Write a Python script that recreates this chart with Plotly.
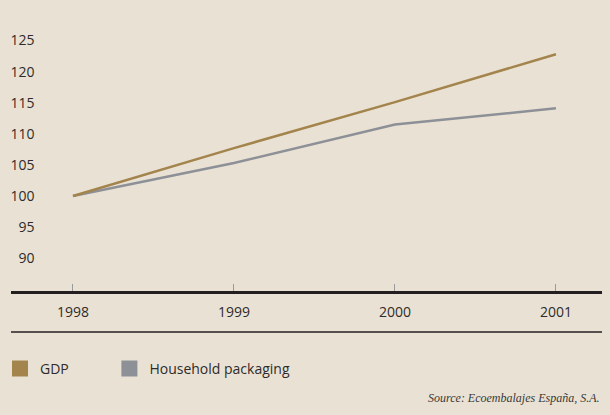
import plotly.graph_objects as go

years = [1998, 1999, 2000, 2001]
gdp = [100, 107.7, 115.1, 122.8]
household = [100, 105.3, 111.5, 114.1]
y_ticks = [90, 95, 100, 105, 110, 115, 120, 125]
series_names = ["GDP", "Household packaging"]
source_text = "Source: Ecoembalajes España, S.A."

BG = "#E9E2D4"
GDP_C = "#A3844C"
HH_C = "#8E9097"
TXT = "#2E2B2A"
FONT = "Open Sans"

fig = go.Figure()
fig.add_trace(go.Scatter(x=years, y=household, mode="lines", line=dict(color=HH_C, width=2.5),
                         showlegend=False, hoverinfo="skip"))
fig.add_trace(go.Scatter(x=years, y=gdp, mode="lines", line=dict(color=GDP_C, width=2.5),
                         showlegend=False, hoverinfo="skip"))
# legend-only square swatches, one legend each so they can be placed independently
for name, c, lg in zip(series_names, [GDP_C, HH_C], ["legend", "legend2"]):
    fig.add_trace(go.Scatter(x=[None], y=[None], mode="markers", name=name, legend=lg,
                             marker=dict(symbol="square", size=19, color=c)))

legend_common = dict(orientation="h", xanchor="left", y=-0.287, yanchor="middle",
                     bgcolor="rgba(0,0,0,0)", font=dict(size=14, color=TXT))

fig.update_layout(
    width=610, height=415,
    paper_bgcolor=BG, plot_bgcolor=BG,
    margin=dict(l=11, r=8, t=20, b=124, autoexpand=False),
    font=dict(family=FONT, size=14, color=TXT),
    xaxis=dict(range=[1997.615, 2001.286], tickvals=years, ticktext=[str(y) for y in years],
               showgrid=False, zeroline=False, showline=True, linecolor="#231F20", linewidth=2.5,
               ticks="inside", ticklen=7, tickcolor="#9A9A9A", tickwidth=1,
               ticklabelstandoff=6, tickfont=dict(size=14, color=TXT), domain=[0, 1]),
    yaxis=dict(range=[84.73, 128.3], tickvals=y_ticks, showgrid=False, zeroline=False,
               showline=False, ticks="", anchor="free", position=0.040,
               tickfont=dict(size=14, color=TXT)),
    legend=dict(x=-0.0186, **legend_common),
    legend2=dict(x=0.1665, **legend_common),
    shapes=[dict(type="line", xref="paper", yref="paper", x0=0, x1=1, y0=-0.151, y1=-0.151,
                 line=dict(color="#231F20", width=1.5))],
    annotations=[dict(text=source_text, xref="paper", yref="paper", x=1, y=-0.395,
                      xanchor="right", yanchor="middle", showarrow=False,
                      font=dict(family="Liberation Serif", size=12, color="#3A3836",
                                style="italic"))],
)

fig.write_html("out.html", config={"displayModeBar": False},
               post_script="document.body.style.margin='0px';")
